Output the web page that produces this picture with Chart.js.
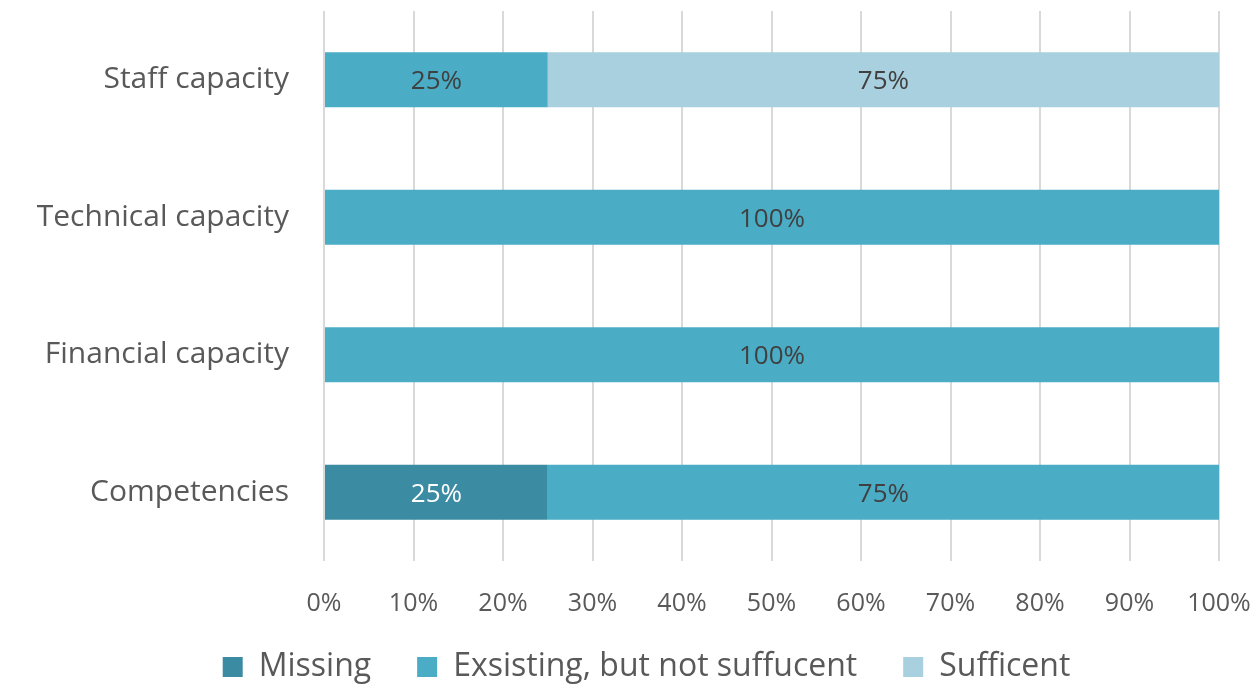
<!DOCTYPE html>
<html lang="en">
<head>
<meta charset="utf-8"/>
<title>Capacity</title>
<script src="https://cdn.jsdelivr.net/npm/chart.js"></script>
<style>
    body { margin: 0; background: #fff; }
    #wrap { width: 1258px; height: 688px; }
</style>
</head>
<body>
<div id="wrap"><canvas id="capChart"></canvas></div>
<script>
    const categorias = ['Staff capacity', 'Technical capacity', 'Financial capacity', 'Competencies'];
    const missing = [0, 0, 0, 25];
    const existing = [25, 100, 100, 75];
    const sufficent = [75, 0, 0, 0];
    const xTicks = [0, 10, 20, 30, 40, 50, 60, 70, 80, 90, 100];

    const fonte = "'Open Sans', sans-serif";

    // desenha os rotulos no meio de cada barra
    const rotulos = {
        id: 'rotulos',
        afterDatasetsDraw(chart) {
            const ctx = chart.ctx;
            ctx.save();
            ctx.font = "26px " + fonte;
            ctx.textAlign = 'center';
            ctx.textBaseline = 'middle';
            chart.data.datasets.forEach((ds, i) => {
                chart.getDatasetMeta(i).data.forEach((bar, j) => {
                    const v = ds.data[j];
                    if (!v) return;
                    const p = bar.getProps(['x', 'y', 'base'], true);
                    ctx.fillStyle = i === 0 ? '#ffffff' : '#404040';
                    ctx.fillText(v + '%', (p.x + p.base) / 2, p.y + 2);
                });
            });
            ctx.restore();
        }
    };

    // ajusta a posicao da legenda (o padding grande empurra os itens)
    const moveLegenda = {
        id: 'moveLegenda',
        afterLayout(chart) {
            const lg = chart.legend;
            lg.top -= 24; lg.bottom -= 24;
            lg.left += 37; lg.right += 37;
        }
    };

    new Chart(document.getElementById('capChart'), {
        type: 'bar',
        data: {
            labels: categorias,
            datasets: [
                { label: 'Missing', data: missing, backgroundColor: '#3b8ba3' },
                { label: 'Exsisting, but not suffucent', data: existing, backgroundColor: '#4bacc6' },
                { label: 'Sufficent', data: sufficent, backgroundColor: '#a9d0de' }
            ]
        },
        options: {
            indexAxis: 'y',
            responsive: true,
            maintainAspectRatio: false,
            animation: false,
            events: [],
            categoryPercentage: 1,
            barPercentage: 0.4,
            layout: { padding: { left: 0, right: 39, top: 11, bottom: -29 } },
            scales: {
                x: {
                    stacked: true,
                    min: 0, max: 100,
                    afterBuildTicks: ax => { ax.ticks = xTicks.map(v => ({ value: v })); },
                    afterFit: ax => { ax.height = 68; ax.paddingLeft = 0; ax.paddingRight = 0; },
                    grid: { color: '#d9d9d9', lineWidth: 2, drawTicks: false },
                    border: { display: false },
                    ticks: {
                        padding: 28,
                        color: '#595959',
                        font: { family: fonte, size: 25 },
                        callback: v => v + '%'
                    }
                },
                y: {
                    stacked: true,
                    afterFit: ax => { ax.width = 324; ax.paddingTop = 0; ax.paddingBottom = 0; },
                    grid: { display: false, drawTicks: false },
                    border: { display: false },
                    ticks: {
                        padding: 35,
                        color: '#595959',
                        font: { family: fonte, size: 30 }
                    }
                }
            },
            plugins: {
                tooltip: { enabled: false },
                legend: {
                    position: 'bottom',
                    labels: {
                        color: '#595959',
                        font: { family: fonte, size: 32 },
                        boxWidth: 20, boxHeight: 20,
                        padding: 46
                    }
                }
            }
        },
        plugins: [rotulos, moveLegenda]
    });
</script>
</body>
</html>
